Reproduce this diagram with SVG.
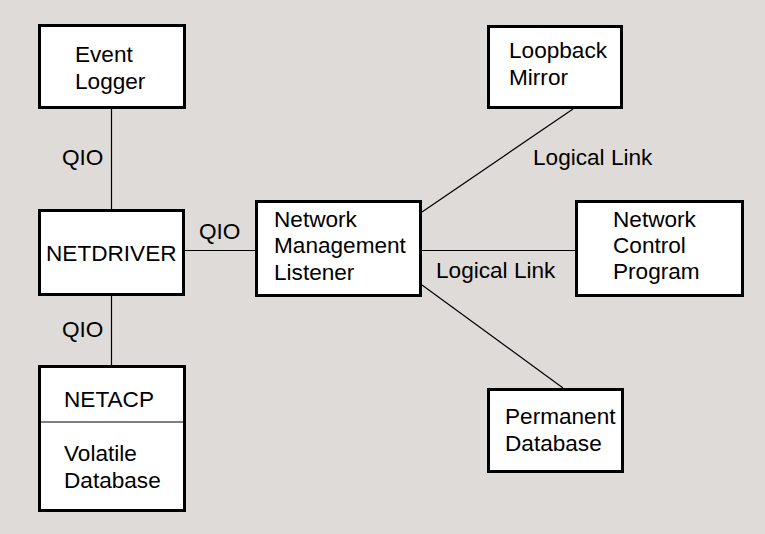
<svg xmlns="http://www.w3.org/2000/svg" width="765" height="534" viewBox="0 0 765 534">
<style>
.box{fill:#ffffff;stroke:#000000;stroke-width:3}
.ln{stroke:#000000;stroke-width:1.2;fill:none}
text{font-family:"Liberation Sans",Arial,sans-serif;font-size:22.6px;fill:#000000}
</style>
<rect x="0" y="0" width="765" height="534" fill="#dfdbd8"/>
<g id="connectors">
<line class="ln" x1="111.5" y1="109" x2="111.5" y2="209"/>
<line class="ln" x1="111.5" y1="296" x2="111.5" y2="365"/>
<line class="ln" x1="185" y1="250.5" x2="255" y2="250.5"/>
<line class="ln" x1="422" y1="212" x2="573" y2="109"/>
<line class="ln" x1="422" y1="250.5" x2="575" y2="250.5"/>
<line class="ln" x1="422" y1="285" x2="563" y2="388"/>
<text x="62" y="165">QIO</text>
<text x="199" y="239">QIO</text>
<text x="62" y="337">QIO</text>
<text x="533" y="165">Logical Link</text>
<text x="436" y="278">Logical Link</text>
</g>
<g id="event-logger">
<rect class="box" x="39.5" y="25.5" width="145" height="82"/>
<text x="75" y="62">Event</text>
<text x="75" y="89">Logger</text>
</g>
<g id="netdriver">
<rect class="box" x="39.5" y="210.5" width="144" height="84"/>
<text x="46" y="261">NETDRIVER</text>
</g>
<g id="netacp">
<rect class="box" x="39.5" y="366.5" width="145" height="144"/>
<line class="ln" x1="39.5" y1="422" x2="184.5" y2="422"/>
<text x="64" y="407">NETACP</text>
<text x="64" y="461">Volatile</text>
<text x="64" y="488">Database</text>
</g>
<g id="listener">
<rect class="box" x="256.5" y="201.5" width="164" height="94"/>
<text x="274" y="227">Network</text>
<text x="274" y="253">Management</text>
<text x="274" y="280">Listener</text>
</g>
<g id="loopback-mirror">
<rect class="box" x="488.5" y="26.5" width="133" height="81"/>
<text x="509" y="58">Loopback</text>
<text x="509" y="85">Mirror</text>
</g>
<g id="ncp">
<rect class="box" x="576.5" y="201.5" width="166" height="94"/>
<text x="613" y="227">Network</text>
<text x="613" y="253">Control</text>
<text x="613" y="279">Program</text>
</g>
<g id="permanent-db">
<rect class="box" x="488.5" y="389.5" width="134" height="82"/>
<text x="505" y="424">Permanent</text>
<text x="505" y="451">Database</text>
</g>
</svg>
